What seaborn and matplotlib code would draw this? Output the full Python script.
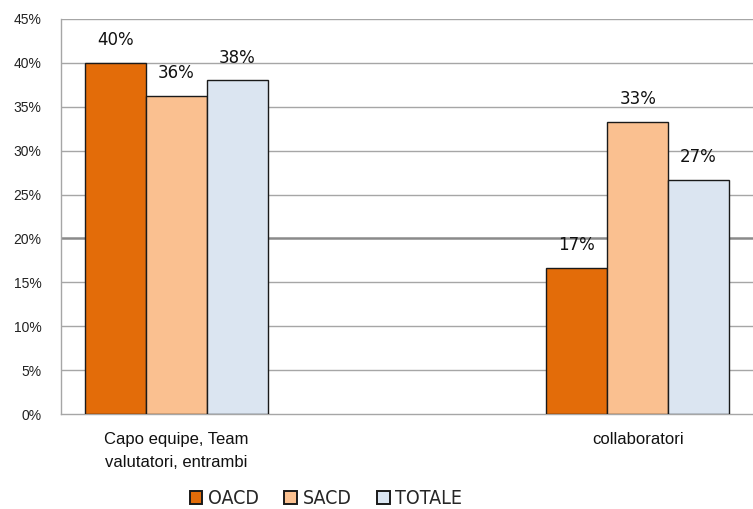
import matplotlib
matplotlib.use("Agg")
import matplotlib.pyplot as plt
import seaborn as sns
import pandas as pd
from matplotlib.patches import Patch
from matplotlib import font_manager

categories = ["Capo equipe, Team\nvalutatori, entrambi", "collaboratori"]
series = ["OACD", "SACD", "TOTALE"]
oacd = [40.0, 16.6]
sacd = [36.2, 33.3]
totale = [38.0, 26.7]
colors = ["#E36C09", "#FAC090", "#DBE5F1"]
yticks = [0, 5, 10, 15, 20, 25, 30, 35, 40, 45]

rows = []
for name, vals in zip(series, [oacd, sacd, totale]):
    for cat, v in zip(categories, vals):
        rows.append({"categoria": cat, "serie": name, "valore": v})
df = pd.DataFrame(rows)

sns.set_theme(style="white")
plt.rcParams["font.family"] = ["Liberation Sans", "DejaVu Sans"]

# narrow face for the legend, if one is installed
names = {f.name for f in font_manager.fontManager.ttflist}
if "Liberation Sans Narrow" in names:
    legend_font = {"family": "Liberation Sans Narrow", "size": 15}
else:
    legend_font = {"family": "DejaVu Sans", "stretch": "condensed", "size": 14}

fig = plt.figure(figsize=(7.53, 5.09), dpi=100)
ax = fig.add_axes([0.081, 0.1866, 0.919, 0.7761])

sns.barplot(data=df, x="categoria", y="valore", hue="serie", order=categories,
            hue_order=series, palette=colors, saturation=1, width=0.396,
            dodge=True, edgecolor="#1a1a1a", linewidth=1.0, legend=False,
            ax=ax, zorder=3)

ax.set_xlim(-0.25, 1.25)
ax.set_ylim(0, 45)
ax.set_yticks(yticks)
ax.set_yticklabels([f"{t}%" for t in yticks], fontsize=10, color="#222222")
ax.set_xlabel("")
ax.set_ylabel("")
ax.set_xticks([])

for t in yticks[1:]:
    lw = 1.8 if t == 20 else 1.0
    col = "#8a8a8a" if t == 20 else "#a6a6a6"
    ax.axhline(t, color=col, linewidth=lw, zorder=1)

for side in ["top", "right"]:
    ax.spines[side].set_visible(False)
ax.spines["left"].set_color("#a6a6a6")
ax.spines["bottom"].set_color("#a6a6a6")
ax.spines["left"].set_linewidth(1.0)
ax.spines["bottom"].set_linewidth(1.0)
ax.tick_params(axis="y", length=0, pad=14)

for container in ax.containers:
    labels = [f"{round(b.get_height()):.0f}%" for b in container]
    ax.bar_label(container, labels=labels, padding=10, fontsize=12,
                 color="#111111", family="DejaVu Sans")

for i, cat in enumerate(categories):
    ax.text(i, -2.1, cat, ha="center", va="top", fontsize=12,
            linespacing=1.6, color="#111111", transform=ax.transData)

handles = [Patch(facecolor=c, edgecolor="#1a1a1a", linewidth=1.4, label=s)
           for c, s in zip(colors, series)]
fig.legend(handles=handles, loc="lower center", bbox_to_anchor=(0.433, -0.033),
           ncol=3, frameon=False, prop=legend_font, handlelength=0.65,
           handleheight=0.65, handletextpad=0.3, columnspacing=1.3)

fig.savefig("out.png", dpi=100)
